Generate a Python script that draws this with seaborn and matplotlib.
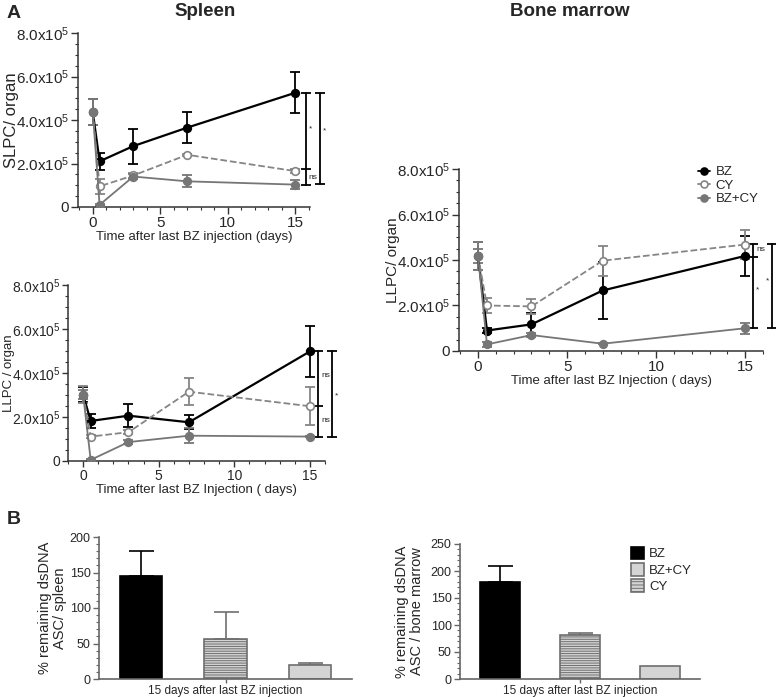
import numpy as np
import pandas as pd
import seaborn as sns
import matplotlib.pyplot as plt
from matplotlib.patches import Patch
from matplotlib.lines import Line2D
from matplotlib.ticker import MultipleLocator

sns.set_style("ticks")
plt.rcParams['font.family'] = ['Liberation Sans', 'DejaVu Sans']
plt.rcParams['mathtext.fontset'] = 'custom'
plt.rcParams['mathtext.rm'] = 'Liberation Sans'
plt.rcParams['mathtext.it'] = 'Liberation Sans'
plt.rcParams['hatch.linewidth'] = 0.7

# days after last BZ injection
days = [0, 0.5, 3, 7, 15]
groups = ['BZ', 'CY', 'BZ+CY']

# spleen SLPC per organ (x1e5), mean and SEM
slpc_bz = [4.35, 2.10, 2.80, 3.65, 5.25]
slpc_bz_err = [0.60, 0.40, 0.80, 0.70, 0.95]
slpc_cy = [4.35, 0.95, 1.45, 2.40, 1.65]
slpc_cy_err = [0.60, 0.35, 0.10, 0.05, 0.10]
slpc_bzcy = [4.35, 0.10, 1.40, 1.18, 1.03]
slpc_bzcy_err = [0.60, 0.05, 0.10, 0.28, 0.20]

# spleen LLPC per organ (x1e5)
llpc_sp_bz = [3.02, 1.82, 2.06, 1.76, 4.98]
llpc_sp_bz_err = [0.35, 0.30, 0.53, 0.32, 1.15]
llpc_sp_cy = [3.02, 1.11, 1.31, 3.15, 2.49]
llpc_sp_cy_err = [0.38, 0.08, 0.10, 0.62, 0.86]
llpc_sp_bzcy = [3.02, 0.05, 0.86, 1.15, 1.11]
llpc_sp_bzcy_err = [0.20, 0.03, 0.10, 0.35, 0.03]

# bone marrow LLPC per organ (x1e5)
llpc_bm_bz = [4.18, 0.90, 1.17, 2.66, 4.18]
llpc_bm_bz_err = [0.61, 0.10, 0.50, 1.27, 0.88]
llpc_bm_cy = [4.18, 2.00, 1.96, 3.97, 4.68]
llpc_bm_cy_err = [0.60, 0.33, 0.32, 0.66, 0.63]
llpc_bm_bzcy = [4.18, 0.29, 0.70, 0.32, 1.00]
llpc_bm_bzcy_err = [0.30, 0.10, 0.10, 0.03, 0.25]

# % remaining dsDNA ASC, 15 days after last BZ injection
bar_groups = ['BZ', 'CY', 'BZ+CY']
sp_pct = [145, 57, 20]
sp_pct_err = [35, 37, 3]
bm_pct = [180, 81, 25]
bm_pct_err = [29, 4, 0]

ytick_vals = [0, 2, 4, 6, 8]
ytick_labels = ['0', '2.0x10$^5$', '4.0x10$^5$', '6.0x10$^5$', '8.0x10$^5$']

line_style = {
    'BZ': dict(color='black', mfc='black', ls='-', lw=1.6),
    'CY': dict(color='#858585', mfc='white', ls='--', lw=1.3),
    'BZ+CY': dict(color='#767676', mfc='#767676', ls='-', lw=1.3),
}

fig = plt.figure(figsize=(7.76, 6.97), dpi=100)


def px_axes(left, right, top, bottom):
    return fig.add_axes([left / 776, 1 - bottom / 697, (right - left) / 776, (bottom - top) / 697])


def time_course(ax, series, xlim, xlabel, ylabel, ylab_size, ylab_x, tick_size=11, tick_len=5):
    for g, (vals, errs) in zip(groups, series):
        st = line_style[g]
        sns.lineplot(x=days, y=vals, ax=ax, color=st['color'], linestyle=st['ls'],
                     linewidth=st['lw'], marker='o', markersize=5.5,
                     markerfacecolor=st['mfc'], markeredgecolor=st['color'],
                     markeredgewidth=1.2, label=g, legend=False, zorder=3)
        ax.errorbar(days, vals, yerr=errs, fmt='none', ecolor=st['color'],
                    elinewidth=1.3, capsize=3.5, capthick=1.3, zorder=2)
    ax.set_xlim(*xlim)
    ax.set_ylim(0, 8)
    ax.set_yticks(ytick_vals)
    ax.set_yticklabels(ytick_labels)
    ax.yaxis.set_minor_locator(MultipleLocator(0.5))
    ax.set_xticks([0, 5, 10, 15])
    ax.xaxis.set_minor_locator(MultipleLocator(1))
    ax.tick_params(which='major', length=tick_len, width=1, labelsize=tick_size,
                   color='#333333', pad=1.5)
    ax.tick_params(which='minor', length=2.5, width=0.8, color='#333333')
    for s in ['left', 'bottom']:
        ax.spines[s].set_color('#333333')
        ax.spines[s].set_linewidth(1.1)
    sns.despine(ax=ax)
    ax.set_xlabel(xlabel, fontsize=9.5, labelpad=1)
    ax.set_ylabel(ylabel, fontsize=ylab_size)
    ax.yaxis.set_label_coords(ylab_x, 0.5)


def bracket(ax, x, lo, hi, mid=None, texts=(), side='right'):
    ax.plot([x, x], [lo, hi], color='black', lw=1.3, clip_on=False)
    ys = [lo, hi] + ([mid] if mid is not None else [])
    ax.plot([x] * len(ys), ys, color='black', lw=0, marker='_', ms=7, mew=1.3, clip_on=False)
    for (ty, t) in texts:
        if side == 'right':
            ax.text(x + 0.2, ty, t, fontsize=6, va='center', ha='left', clip_on=False)
        else:
            ax.text(x - 0.15, ty, t, fontsize=6, va='center', ha='right', clip_on=False)


# ---- A: spleen SLPC
ax1 = px_axes(78, 310, 33, 207)
time_course(ax1, [(slpc_bz, slpc_bz_err), (slpc_cy, slpc_cy_err), (slpc_bzcy, slpc_bzcy_err)],
            (-1.1, 16.1), 'Time after last BZ injection (days)', 'SLPC/ organ', 12, -0.255)
bracket(ax1, 15.8, 1.0, slpc_bz[-1], mid=slpc_cy[-1] + 0.1,
        texts=[(3.6, '*'), (1.35, 'ns')])
bracket(ax1, 16.85, 1.05, slpc_bz[-1], texts=[(3.5, '*')])

# ---- A: spleen LLPC
ax2 = px_axes(68, 325, 285, 461)
time_course(ax2, [(llpc_sp_bz, llpc_sp_bz_err), (llpc_sp_cy, llpc_sp_cy_err),
                  (llpc_sp_bzcy, llpc_sp_bzcy_err)],
            (-1.0, 16.0), 'Time after last BZ Injection ( days)', 'LLPC / organ', 9.5, -0.206,
            tick_size=10, tick_len=4)
bracket(ax2, 15.53, llpc_sp_bzcy[-1], llpc_sp_bz[-1], mid=llpc_sp_cy[-1],
        texts=[(3.9, 'ns'), (1.85, 'ns')])
bracket(ax2, 16.46, llpc_sp_bzcy[-1], llpc_sp_bz[-1], texts=[(2.95, '*')])

# ---- A: bone marrow LLPC
ax3 = px_axes(459, 763, 169, 351)
time_course(ax3, [(llpc_bm_bz, llpc_bm_bz_err), (llpc_bm_cy, llpc_bm_cy_err),
                  (llpc_bm_bzcy, llpc_bm_bzcy_err)],
            (-1.07, 16.0), 'Time after last BZ Injection ( days)', 'LLPC/ organ', 11, -0.195)
bracket(ax3, 15.42, 1.03, 4.72, mid=4.12, texts=[(4.45, 'ns'), (2.7, '*')])
bracket(ax3, 16.49, 1.03, 4.72, texts=[(3.1, '*')], side='left')
handles = [Line2D([], [], color=line_style[g]['color'], marker='o', ms=5,
                  mfc=line_style[g]['mfc'], mec=line_style[g]['color'], mew=1.2,
                  lw=1.3) for g in groups]
ax3.legend(handles, groups, loc='upper left', bbox_to_anchor=(0.77, 1.045),
           frameon=False, fontsize=9.5, handlelength=0.9, handletextpad=0.4,
           labelspacing=0.1, borderaxespad=0)

# ---- B: bar charts
bar_colors = {'BZ': 'black', 'CY': '#d4d4d4', 'BZ+CY': '#d4d4d4'}
edge_colors = {'BZ': 'black', 'CY': '#6e6e6e', 'BZ+CY': '#6e6e6e'}


def bar_panel(ax, vals, errs, ymax, ylabel, ylab_x):
    df = pd.DataFrame({'group': bar_groups, 'pct': vals})
    sns.barplot(data=df, x='group', y='pct', hue='group', palette=bar_colors,
                width=0.5, errorbar=None, legend=False, ax=ax, zorder=2)
    for p, g in zip(ax.patches, bar_groups):
        p.set_edgecolor(edge_colors[g])
        p.set_linewidth(1.2)
        if g == 'CY':
            p.set_hatch('-------')
    for i, g in enumerate(bar_groups):
        if errs[i] > 0:
            ax.errorbar(i, vals[i], yerr=[[0], [errs[i]]], fmt='none',
                        ecolor=edge_colors[g], elinewidth=1.2, capsize=9,
                        capthick=1.2, zorder=1)
    ax.set_xlim(-0.5, 2.5)
    ax.set_ylim(0, ymax)
    ax.set_yticks(np.arange(0, ymax + 1, 50))
    ax.yaxis.set_minor_locator(MultipleLocator(10))
    ax.set_xticks([1])
    ax.set_xticklabels(['15 days after last BZ injection'])
    ax.set_xlabel('')
    ax.set_ylabel(ylabel, fontsize=10.5, linespacing=1.1)
    ax.yaxis.set_label_coords(ylab_x, 0.5)
    ax.tick_params(which='major', length=4, width=1, labelsize=9, color='#666666', pad=2)
    ax.tick_params(axis='x', length=3, labelsize=8.5, pad=1)
    ax.tick_params(which='minor', length=2, width=0.8, color='#666666')
    for s in ['left', 'bottom']:
        ax.spines[s].set_color('#666666')
        ax.spines[s].set_linewidth(1.2)
    sns.despine(ax=ax)


ax4 = px_axes(99, 352, 537, 679)
bar_panel(ax4, sp_pct, sp_pct_err, 200, '% remaining dsDNA\nASC/ spleen', -0.125)

ax5 = px_axes(460, 700, 544, 679)
bar_panel(ax5, bm_pct, bm_pct_err, 250, '% remaining dsDNA\nASC / bone marrow', -0.15)
leg_order = ['BZ', 'BZ+CY', 'CY']
patches = [Patch(facecolor=bar_colors[g], edgecolor=edge_colors[g], lw=1.2,
                 hatch='-----' if g == 'CY' else None) for g in leg_order]
ax5.legend(patches, leg_order, loc='upper left', bbox_to_anchor=(0.69, 1.02),
           frameon=False, fontsize=9.5, handlelength=1.0, handleheight=1.1,
           handletextpad=0.4, labelspacing=0.2, borderaxespad=0)

# titles and panel letters
fig.text(205 / 776, 1 - 12 / 697, 'Spleen', ha='center', va='center', fontsize=13.5, fontweight='bold')
fig.text(570 / 776, 1 - 12 / 697, 'Bone marrow', ha='center', va='center', fontsize=13.5, fontweight='bold')
fig.text(14 / 776, 1 - 13 / 697, 'A', ha='center', va='center', fontsize=14, fontweight='bold')
fig.text(14 / 776, 1 - 519 / 697, 'B', ha='center', va='center', fontsize=14, fontweight='bold')

fig.savefig('out.png', dpi=100)
